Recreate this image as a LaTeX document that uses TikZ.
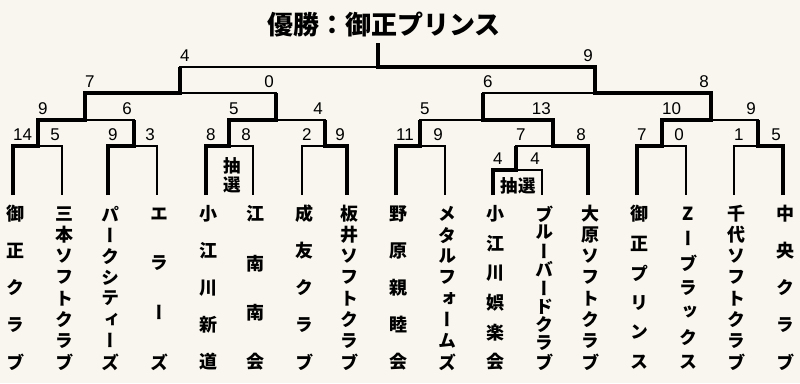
\documentclass[tikz,border=0pt]{standalone}
\usepackage{fontspec}
\setmainfont{Liberation Sans}
\newfontfamily\jp{Noto Sans CJK JP}
\newfontfamily\jpv[RawFeature=+vert]{Noto Sans CJK JP}
\usetikzlibrary{calc}
\definecolor{paper}{RGB}{248,246,238}
\tikzset{
  bline/.style={line width=1.2pt},
  win/.style={line width=4pt},
  scl/.style={anchor=south west, inner sep=0pt, font=\fontsize{17}{17}\selectfont, xshift=0pt, yshift=5pt},
  scr/.style={anchor=south east, inner sep=0pt, font=\fontsize{17}{17}\selectfont, xshift=-2pt, yshift=5pt},
  tname/.style={inner sep=0pt, font=\jpv\bfseries\fontsize{18}{18}\selectfont},
  lot/.style={inner sep=0pt, align=center, font=\jp\bfseries\fontsize{17.5}{19}\selectfont},
  title/.style={inner sep=0pt, font=\jp\bfseries\fontsize{26}{26}\selectfont}
}
% one game: left, right, junction, left score, right score
\newcommand\game[5]{%
  \draw[bline] (#1) |- (#3) -| (#2);
  \node[scl] (#3l) at (#1 |- #3) {#4};
  \node[scr] (#3r) at (#2 |- #3) {#5};
}
% team name written top to bottom under the bracket
\newcommand\teamname[2]{%
  \foreach \q [count=\k] in {#2} {\xdef\nch{\k}}%
  \foreach \q [count=\k] in {#2}
    \node[tname] (#1-\k) at ($(#1)+(2,{19+(\k-1)*148/(\nch-1)})$) {\q};
}
\begin{document}
\begin{tikzpicture}[x=1pt,y=-1pt]
  \fill[paper] (0,0) rectangle (800,383);
  \useasboundingbox (0,0) rectangle (800,383);
  \foreach \x [count=\i] in {13,62,108,157,206,253,302,347,396,445,493,542,588,637,686,734,783}
    \coordinate (t\i) at (\x,195);
  % junctions
  \coordinate (m1) at (38,146);  \coordinate (m2) at (134,146);
  \coordinate (m3) at (229,146); \coordinate (m4) at (325,146);
  \coordinate (m5) at (420,146); \coordinate (p) at (516,170);
  \coordinate (m6) at (553,146); \coordinate (m7) at (662,146);
  \coordinate (m8) at (758,146);
  \coordinate (s1) at (85,120);  \coordinate (s2) at (276,120);
  \coordinate (s3) at (483,120); \coordinate (s4) at (711,120);
  \coordinate (q1) at (180,93);  \coordinate (q2) at (595,93);
  \coordinate (f) at (378,67);   \coordinate (top) at (378,43);
  \node[title] (title) at (384,25) {優勝：御正プリンス};
  % games
  \game{t1}{t2}{m1}{14}{5}
  \game{t3}{t4}{m2}{9}{3}
  \game{t5}{t6}{m3}{8}{8}
  \game{t7}{t8}{m4}{2}{9}
  \game{t9}{t10}{m5}{11}{9}
  \game{t11}{t12}{p}{4}{4}
  \game{p}{t13}{m6}{7}{8}
  \game{t14}{t15}{m7}{7}{0}
  \game{t16}{t17}{m8}{1}{5}
  \game{m1}{m2}{s1}{9}{6}
  \game{m3}{m4}{s2}{5}{4}
  \game{m5}{m6}{s3}{5}{13}
  \game{m7}{m8}{s4}{10}{9}
  \game{s1}{s2}{q1}{7}{0}
  \game{s3}{s4}{q2}{6}{8}
  \game{q1}{q2}{f}{4}{9}
  % winners
  \draw[win] (t1) |- (m1) -- (m1 |- s1);
  \draw[win] (t3) |- (m2) -- (m2 |- s1);
  \draw[win] (t5) |- (m3) -- (m3 |- s2);
  \draw[win] (t8) |- (m4) -- (m4 |- s2);
  \draw[win] (t9) |- (m5) -- (m5 |- s3);
  \draw[win] (t11) |- (p) -- (p |- m6);
  \draw[win] (t13) |- (m6) -- (m6 |- s3);
  \draw[win] (t14) |- (m7) -- (m7 |- s4);
  \draw[win] (t17) |- (m8) -- (m8 |- s4);
  \draw[win] (m1) |- (s1) -- (s1 |- q1);
  \draw[win] (m3) |- (s2) -- (s2 |- q1);
  \draw[win] (m6) |- (s3) -- (s3 |- q2);
  \draw[win] (m7) |- (s4) -- (s4 |- q2);
  \draw[win] (s1) |- (q1) -- (q1 |- f);
  \draw[win] (s4) |- (q2) -- (q2 |- f);
  \draw[win] (q2) |- (f) -- (top);
  % lottery
  \node[lot] (lot1) at ($(m3)+(3,29)$) {抽\\選};
  \node[lot] (lot2) at ($(p)+(2,16)$) {抽選};
  % teams
  \teamname{t1}{御,正,ク,ラ,ブ}
  \teamname{t2}{三,本,ソ,フ,ト,ク,ラ,ブ}
  \teamname{t3}{パ,ー,ク,シ,テ,ィ,ー,ズ}
  \teamname{t4}{エ,ラ,ー,ズ}
  \teamname{t5}{小,江,川,新,道}
  \teamname{t6}{江,南,南,会}
  \teamname{t7}{成,友,ク,ラ,ブ}
  \teamname{t8}{板,井,ソ,フ,ト,ク,ラ,ブ}
  \teamname{t9}{野,原,親,睦,会}
  \teamname{t10}{メ,タ,ル,フ,ォ,ー,ム,ズ}
  \teamname{t11}{小,江,川,娯,楽,会}
  \teamname{t12}{ブ,ル,ー,バ,ー,ド,ク,ラ,ブ}
  \teamname{t13}{大,原,ソ,フ,ト,ク,ラ,ブ}
  \teamname{t14}{御,正,プ,リ,ン,ス}
  \teamname{t15}{Z,ー,ブ,ラ,ッ,ク,ス}
  \teamname{t16}{千,代,ソ,フ,ト,ク,ラ,ブ}
  \teamname{t17}{中,央,ク,ラ,ブ}
\end{tikzpicture}
\end{document}
